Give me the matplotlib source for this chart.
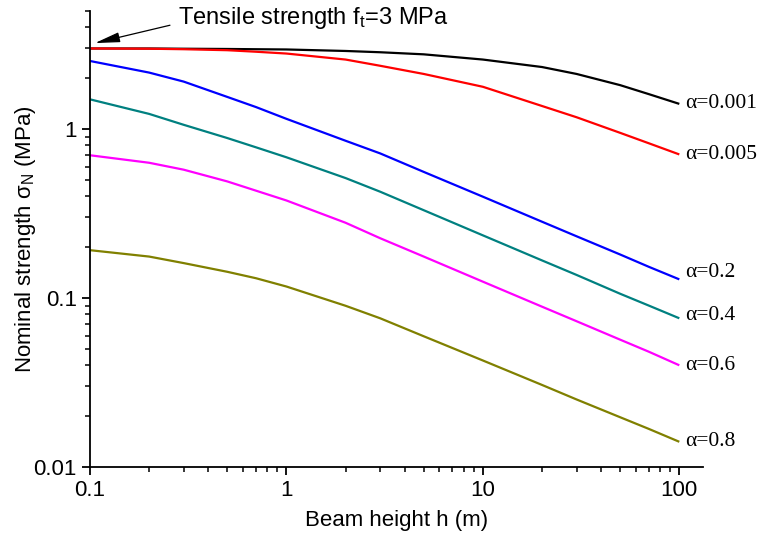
"""Size effect curves: nominal strength vs beam height for several alpha values."""
import matplotlib
matplotlib.use("Agg")
import matplotlib.pyplot as plt
from matplotlib.ticker import LogLocator, FuncFormatter, NullFormatter

plt.rcParams["font.family"] = ["Liberation Sans", "DejaVu Sans"]
plt.rcParams["mathtext.fontset"] = "custom"
plt.rcParams["mathtext.rm"] = "Liberation Sans"
plt.rcParams["mathtext.it"] = "Liberation Sans:italic"

# beam height h (m)
height = [0.1, 0.2, 0.3, 0.5, 0.7, 1, 2, 3, 5, 10, 20, 30, 50, 70, 100]

# nominal strength (MPa) for each alpha
sigma_0001 = [3.0, 3.0, 2.99, 2.98, 2.97, 2.96, 2.9, 2.85, 2.77, 2.58, 2.33, 2.12, 1.82, 1.61, 1.41]
sigma_0005 = [3.0, 2.99, 2.97, 2.93, 2.87, 2.80, 2.58, 2.37, 2.12, 1.78, 1.37, 1.175, 0.95, 0.824, 0.708]
sigma_02 = [2.53, 2.16, 1.91, 1.55, 1.35, 1.15, 0.853, 0.718, 0.558, 0.398, 0.283, 0.232, 0.181, 0.153, 0.129]
sigma_04 = [1.50, 1.23, 1.06, 0.885, 0.78, 0.681, 0.513, 0.426, 0.331, 0.235, 0.167, 0.137, 0.106, 0.0902, 0.0759]
sigma_06 = [0.70, 0.632, 0.575, 0.490, 0.432, 0.378, 0.279, 0.226, 0.176, 0.125, 0.0889, 0.0729, 0.0567, 0.0481, 0.040]
sigma_08 = [0.192, 0.176, 0.161, 0.143, 0.131, 0.117, 0.090, 0.0759, 0.0594, 0.0427, 0.0306, 0.0251, 0.0197, 0.0168, 0.0141]

alpha_labels = ["0.001", "0.005", "0.2", "0.4", "0.6", "0.8"]
series = [sigma_0001, sigma_0005, sigma_02, sigma_04, sigma_06, sigma_08]
colors = ["#000000", "#ff0000", "#0000ff", "#008080", "#ff00ff", "#808000"]
label_dy = [0, 0, 5, 2, 0, 0]  # points, nudges for the end labels

fig = plt.figure(figsize=(7.59, 5.42), dpi=100)
ax = fig.add_axes([90 / 759, 1 - 467 / 542, 613 / 759, 456 / 542])

for vals, c, lab, dy in zip(series, colors, alpha_labels, label_dy):
    ax.plot(height, vals, color=c, linewidth=1.6, solid_capstyle="butt")
    ax.annotate(f"α={lab}", xy=(height[-1], vals[-1]), xytext=(4, dy),
                textcoords="offset points", ha="left", va="center",
                fontsize=15.5, family=["Liberation Serif", "DejaVu Serif"],
                annotation_clip=False)

ax.set_xscale("log")
ax.set_yscale("log")
ax.set_xlim(0.1, 132)
ax.set_ylim(0.01, 5)

fmt = FuncFormatter(lambda v, _: f"{v:g}")
ax.xaxis.set_major_locator(LogLocator(base=10, numticks=10))
ax.yaxis.set_major_locator(LogLocator(base=10, numticks=10))
ax.xaxis.set_minor_locator(LogLocator(base=10, subs=range(2, 10), numticks=20))
ax.yaxis.set_minor_locator(LogLocator(base=10, subs=range(2, 10), numticks=20))
ax.xaxis.set_major_formatter(fmt)
ax.yaxis.set_major_formatter(fmt)
ax.xaxis.set_minor_formatter(NullFormatter())
ax.yaxis.set_minor_formatter(NullFormatter())

for s in ("top", "right"):
    ax.spines[s].set_visible(False)
for s in ("left", "bottom"):
    ax.spines[s].set_linewidth(1.3)
ax.tick_params(which="major", direction="out", length=6, width=1.3, labelsize=16)
ax.tick_params(which="minor", direction="out", length=3.5, width=1.1)

ax.set_xlabel("Beam height h (m)", fontsize=16, labelpad=6)
ax.set_ylabel(r"Nominal strength σ$_{\rm N}$ (MPa)", fontsize=16, labelpad=-3)

ax.annotate(r"Tensile strength f$_{\rm t}$=3 MPa", xy=(0.106, 3.23),
            xytext=(0.281, 4.54), ha="left", va="center", fontsize=17,
            annotation_clip=False,
            arrowprops=dict(arrowstyle="-|>,head_length=0.9,head_width=0.18",
                            color="black", lw=0.9, relpos=(0, 0.3),
                            shrinkA=4, shrinkB=0))

fig.savefig("out.png", dpi=100)
